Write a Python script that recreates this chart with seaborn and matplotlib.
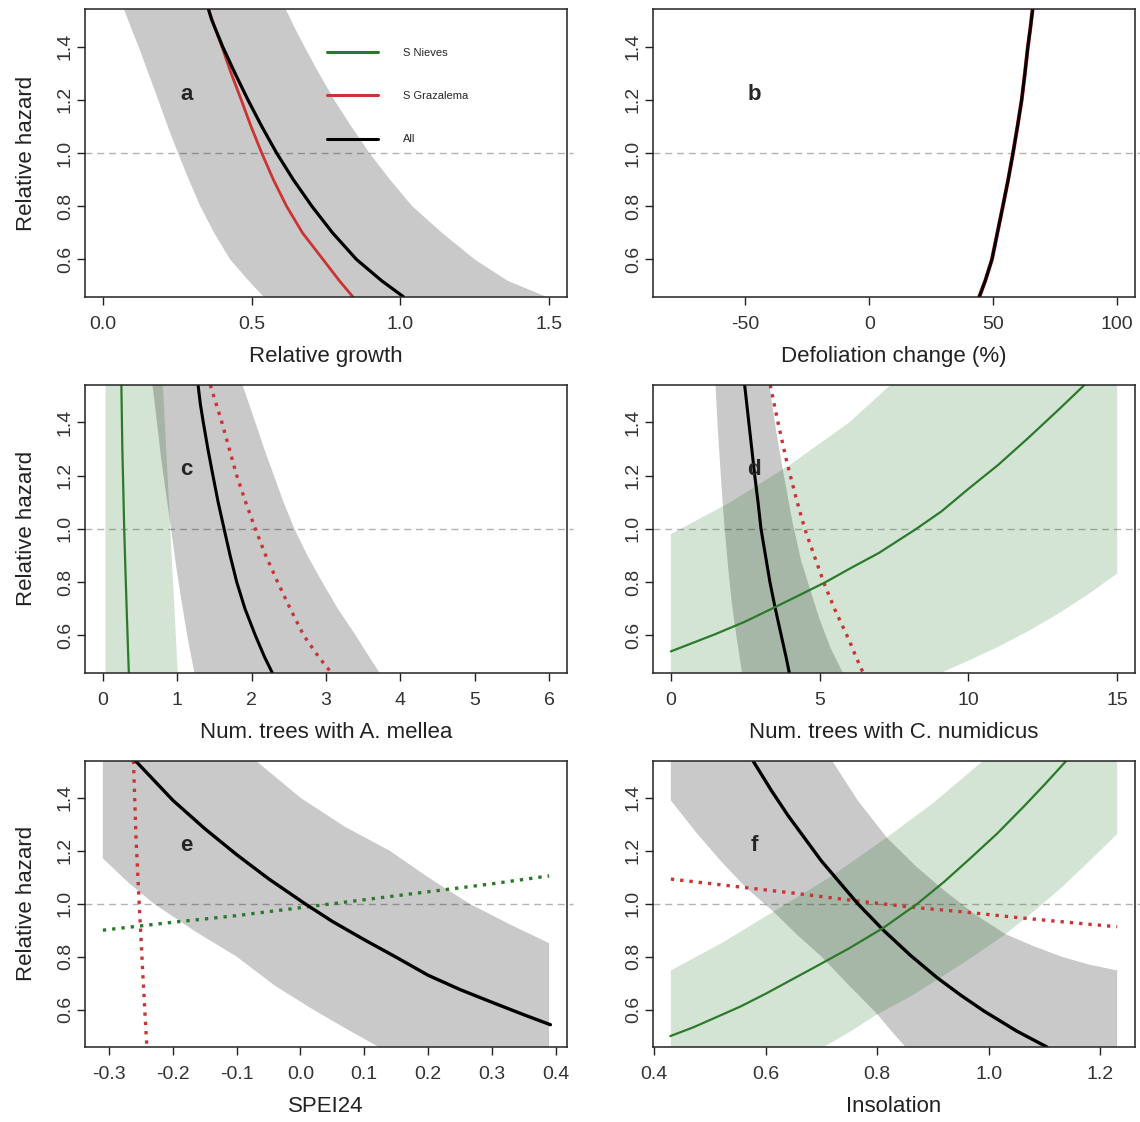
import numpy as np
import matplotlib
matplotlib.use("Agg")
import matplotlib.pyplot as plt
from matplotlib.lines import Line2D
import seaborn as sns

# ---------------------------------------------------------------
# Relative hazard curves (points along each fitted curve)
# ---------------------------------------------------------------
# a: relative growth
a_all_x = [0.355, 0.366, 0.4025, 0.444, 0.4875, 0.534, 0.584, 0.640, 0.7025,
           0.772, 0.8525, 0.937, 1.01]
a_all_hr = [1.54, 1.50, 1.40, 1.30, 1.20, 1.10, 1.00, 0.90, 0.80, 0.70, 0.60,
            0.52, 0.46]
a_graz_x = [0.355, 0.377, 0.40, 0.431, 0.465, 0.498, 0.534, 0.573, 0.6175,
            0.671, 0.74, 0.795, 0.84]
a_graz_hr = [1.54, 1.47, 1.40, 1.30, 1.20, 1.10, 1.00, 0.90, 0.80, 0.70, 0.60,
             0.52, 0.46]
a_all_hi_x = [0.0, 0.615, 0.645, 0.6775, 0.726, 0.7775, 0.835, 0.896, 0.965,
              1.04, 1.14, 1.25, 1.36, 1.49, 1.5]
a_all_hi = [1.54, 1.54, 1.47, 1.40, 1.30, 1.20, 1.10, 1.00, 0.90, 0.80, 0.70,
            0.60, 0.52, 0.46, 0.46]
a_all_lo_x = [0.0, 0.071, 0.095, 0.12, 0.153, 0.186, 0.218, 0.2525, 0.289,
              0.3275, 0.374, 0.4275, 0.49, 0.54, 1.5]
a_all_lo = [1.54, 1.54, 1.47, 1.40, 1.30, 1.20, 1.10, 1.00, 0.90, 0.80, 0.70,
            0.60, 0.52, 0.46, 0.46]

# b: defoliation change
b_all_x = [44.4, 46.8, 49.5, 51.7, 53.9, 56.05, 58.0, 59.8, 61.5, 62.8, 64.0,
           65.0, 65.9]
b_all_hr = [0.46, 0.52, 0.60, 0.70, 0.80, 0.90, 1.00, 1.10, 1.20, 1.30, 1.40,
            1.47, 1.54]

# c: trees with A. mellea
c_niev_x = [0.249, 0.262, 0.274, 0.287, 0.299, 0.32, 0.349]
c_niev_hr = [1.54, 1.30, 1.16, 1.00, 0.889, 0.70, 0.46]
c_niev_hi_x = [0.035, 0.807, 0.857, 0.907, 0.957, 1.006]
c_niev_hi = [1.54, 1.54, 1.273, 1.00, 0.732, 0.46]
c_niev_lo_x = [0.035, 1.006]
c_niev_lo = [0.46, 0.46]
c_all_x = [1.28, 1.31, 1.35, 1.412, 1.48, 1.55, 1.63, 1.711, 1.80, 1.911,
           2.05, 2.172, 2.277]
c_all_hr = [1.54, 1.47, 1.40, 1.30, 1.20, 1.10, 1.00, 0.90, 0.80, 0.70, 0.60,
            0.52, 0.46]
c_all_hi_x = [0.668, 1.878, 2.05, 2.17, 2.30, 2.43, 2.576, 2.75, 2.95, 3.16,
              3.40, 3.58, 3.72]
c_all_hi = [1.54, 1.54, 1.40, 1.30, 1.20, 1.10, 1.00, 0.90, 0.80, 0.70, 0.60,
            0.52, 0.46]
c_all_lo_x = [0.668, 0.78, 0.85, 0.917, 0.985, 1.056, 1.14, 1.23, 3.72]
c_all_lo = [1.54, 1.273, 1.13, 1.00, 0.86, 0.732, 0.59, 0.46, 0.46]
c_graz_x = [1.445, 1.60, 1.70, 1.80, 1.92, 2.05, 2.19, 2.35, 2.52, 2.70, 2.90,
            3.07]
c_graz_hr = [1.54, 1.40, 1.30, 1.20, 1.10, 1.00, 0.90, 0.80, 0.70, 0.60, 0.52,
             0.46]

# d: trees with C. numidicus
d_niev_x = [0.0, 1.5, 2.5, 3.5, 4.3, 5.2, 6.1, 7.0, 8.25, 9.1, 10.0, 11.0,
            12.0, 13.0, 13.9]
d_niev_hr = [0.54, 0.605, 0.652, 0.706, 0.75, 0.80, 0.856, 0.91, 1.00, 1.066,
             1.15, 1.24, 1.34, 1.444, 1.54]
d_niev_hi_x = [0.0, 1.0, 2.0, 3.0, 4.0, 5.0, 6.0, 7.38, 15.0]
d_niev_hi = [0.98, 1.04, 1.10, 1.17, 1.24, 1.32, 1.40, 1.54, 1.54]
d_niev_lo_x = [0.0, 9.09, 10.0, 11.0, 12.0, 13.0, 14.0, 15.0]
d_niev_lo = [0.46, 0.46, 0.505, 0.557, 0.615, 0.68, 0.752, 0.832]
d_all_x = [2.48, 2.62, 2.72, 2.82, 2.93, 3.03, 3.21, 3.33, 3.5, 3.75, 3.87,
           3.98]
d_all_hr = [1.54, 1.40, 1.30, 1.20, 1.10, 1.00, 0.88, 0.80, 0.706, 0.58, 0.52,
            0.46]
d_all_hi_x = [1.5, 3.31, 3.55, 3.8, 4.08, 4.38, 5.0, 5.38, 5.78]
d_all_hi = [1.54, 1.54, 1.36, 1.20, 1.03, 0.88, 0.66, 0.55, 0.46]
d_all_lo_x = [1.5, 1.57, 1.65, 1.72, 1.81, 1.92, 2.05, 2.2, 2.39, 5.78]
d_all_lo = [1.54, 1.39, 1.25, 1.13, 1.00, 0.86, 0.72, 0.60, 0.46, 0.46]
d_graz_x = [3.34, 3.6, 3.9, 4.2, 4.5, 4.88, 5.17, 5.5, 6.0, 6.22, 6.46]
d_graz_hr = [1.54, 1.40, 1.25, 1.12, 1.00, 0.88, 0.79, 0.70, 0.58, 0.52, 0.46]

# e: SPEI24
e_all_x = [-0.259, -0.2, -0.15, -0.1, -0.05, 0.007, 0.05, 0.1, 0.15, 0.2,
           0.25, 0.3, 0.35, 0.392]
e_all_hr = [1.54, 1.39, 1.283, 1.185, 1.094, 1.00, 0.933, 0.864, 0.798, 0.73,
            0.676, 0.628, 0.581, 0.543]
e_all_hi_x = [-0.31, -0.07, 0.0, 0.07, 0.14, 0.2, 0.265, 0.33, 0.39]
e_all_hi = [1.54, 1.54, 1.40, 1.29, 1.20, 1.10, 1.00, 0.92, 0.851]
e_all_lo_x = [-0.31, -0.27, -0.23, -0.165, -0.1, -0.04, 0.02, 0.07, 0.122,
              0.39]
e_all_lo = [1.171, 1.08, 1.00, 0.895, 0.80, 0.69, 0.60, 0.53, 0.46, 0.46]
e_graz_x = [-0.262, -0.258, -0.253, -0.247, -0.241]
e_graz_hr = [1.54, 1.25, 1.00, 0.72, 0.46]
e_niev_x = [-0.31, -0.2, -0.1, 0.0, 0.1, 0.2, 0.3, 0.39]
e_niev_hr = [0.90, 0.93, 0.955, 0.985, 1.015, 1.045, 1.075, 1.105]

# f: insolation
f_all_x = [0.578, 0.61, 0.64, 0.70, 0.765, 0.811, 0.86, 0.907, 0.95, 0.991,
           1.05, 1.104]
f_all_hr = [1.537, 1.428, 1.333, 1.161, 1.00, 0.90, 0.804, 0.721, 0.654,
            0.595, 0.519, 0.459]
f_all_hi_x = [0.43, 0.719, 0.765, 0.817, 0.87, 0.92, 0.975, 1.03, 1.08, 1.13,
              1.18, 1.23]
f_all_hi = [1.54, 1.54, 1.39, 1.25, 1.14, 1.05, 0.96, 0.885, 0.84, 0.80,
            0.77, 0.748]
f_all_lo_x = [0.43, 0.43, 0.475, 0.52, 0.565, 0.614, 0.655, 0.70, 0.75, 0.799,
              0.825, 0.85, 1.23]
f_all_lo = [1.54, 1.39, 1.27, 1.16, 1.06, 0.97, 0.885, 0.80, 0.69, 0.585,
            0.52, 0.46, 0.46]
f_niev_x = [0.429, 0.47, 0.51, 0.555, 0.60, 0.692, 0.75, 0.811, 0.872, 0.92,
            0.966, 1.015, 1.064, 1.10, 1.139]
f_niev_hr = [0.50, 0.533, 0.57, 0.612, 0.66, 0.765, 0.832, 0.909, 1.00, 1.083,
             1.17, 1.265, 1.37, 1.45, 1.54]
f_niev_hi_x = [0.43, 0.52, 0.614, 0.715, 0.817, 0.90, 0.99, 1.23]
f_niev_hi = [0.748, 0.85, 0.97, 1.10, 1.25, 1.38, 1.54, 1.54]
f_niev_lo_x = [0.43, 0.705, 0.75, 0.799, 0.86, 0.92, 0.975, 1.03, 1.08, 1.13,
               1.18, 1.23]
f_niev_lo = [0.46, 0.46, 0.515, 0.581, 0.65, 0.73, 0.805, 0.885, 0.97, 1.06,
             1.16, 1.263]
f_graz_x = [0.43, 0.55, 0.65, 0.765, 0.87, 0.95, 1.05, 1.15, 1.23]
f_graz_hr = [1.093, 1.064, 1.04, 1.01, 0.985, 0.97, 0.948, 0.928, 0.913]

# axis setup
x_labels = ["Relative growth", "Defoliation change (%)",
            "Num. trees with A. mellea", "Num. trees with C. numidicus",
            "SPEI24", "Insolation"]
x_limits = [(-0.06, 1.56), (-87.2, 107.2), (-0.24, 6.24), (-0.6, 15.6),
            (-0.338, 0.418), (0.398, 1.262)]
x_ticks = [[0.0, 0.5, 1.0, 1.5], [-50, 0, 50, 100], [0, 1, 2, 3, 4, 5, 6],
           [0, 5, 10, 15], [-0.3, -0.2, -0.1, 0.0, 0.1, 0.2, 0.3, 0.4],
           [0.4, 0.6, 0.8, 1.0, 1.2]]
x_ticklabels = [["0.0", "0.5", "1.0", "1.5"], ["-50", "0", "50", "100"],
                ["0", "1", "2", "3", "4", "5", "6"], ["0", "5", "10", "15"],
                ["-0.3", "-0.2", "-0.1", "0.0", "0.1", "0.2", "0.3", "0.4"],
                ["0.4", "0.6", "0.8", "1.0", "1.2"]]
y_ticks = [0.6, 0.8, 1.0, 1.2, 1.4]
y_ticklabels = ["0.6", "0.8", "1.0", "1.2", "1.4"]
y_limits = (0.46, 1.54)
panel_letters = ["a", "b", "c", "d", "e", "f"]
legend_labels = ["S Nieves", "S Grazalema", "All"]

# ---------------------------------------------------------------
sns.set_style("white")
plt.rcParams["font.family"] = ["Liberation Sans", "DejaVu Sans"]
plt.rcParams["lines.dotted_pattern"] = [1.0, 1.8]

GREEN = "#2b7a2b"
RED = "#cc3333"
BLACK = "#000000"
GREY_BAND = dict(color="#000000", alpha=0.21, lw=0)
GREEN_BAND = dict(color="#006400", alpha=0.17, lw=0)

W, H = 1140, 1122
fig = plt.figure(figsize=(W / 100, H / 100), dpi=100)

cols = [(85, 567), (653, 1135)]
rows = [(9.3, 296.7), (385.0, 672.7), (760.7, 1046.7)]
axes = []
for r in rows:
    for c in cols:
        rect = [c[0] / W, 1 - r[1] / H, (c[1] - c[0]) / W, (r[1] - r[0]) / H]
        axes.append(fig.add_axes(rect))


def band(ax, lo_x, lo, hi_x, hi, style):
    px = np.r_[np.asarray(hi_x, float), np.asarray(lo_x, float)[::-1]]
    py = np.r_[np.asarray(hi, float), np.asarray(lo, float)[::-1]]
    ax.fill(px, py, **style)


def curve(ax, x, y, color, lw, ls="-"):
    sns.lineplot(x=x, y=y, ax=ax, color=color, lw=lw, linestyle=ls,
                 sort=False, estimator=None, legend=False)


# a
ax = axes[0]
band(ax, a_all_lo_x, a_all_lo, a_all_hi_x, a_all_hi, GREY_BAND)
curve(ax, a_graz_x, a_graz_hr, RED, 2.0)
curve(ax, a_all_x, a_all_hr, BLACK, 2.3)

# b
ax = axes[1]
curve(ax, b_all_x, b_all_hr, RED, 2.8)
curve(ax, b_all_x, b_all_hr, BLACK, 2.2)

# c
ax = axes[2]
band(ax, c_niev_lo_x, c_niev_lo, c_niev_hi_x, c_niev_hi, GREEN_BAND)
band(ax, c_all_lo_x, c_all_lo, c_all_hi_x, c_all_hi, GREY_BAND)
curve(ax, c_niev_x, c_niev_hr, GREEN, 1.6)
curve(ax, c_graz_x, c_graz_hr, RED, 2.4, ":")
curve(ax, c_all_x, c_all_hr, BLACK, 2.2)

# d
ax = axes[3]
band(ax, d_all_lo_x, d_all_lo, d_all_hi_x, d_all_hi, GREY_BAND)
band(ax, d_niev_lo_x, d_niev_lo, d_niev_hi_x, d_niev_hi, GREEN_BAND)
curve(ax, d_graz_x, d_graz_hr, RED, 2.4, ":")
curve(ax, d_all_x, d_all_hr, BLACK, 2.2)
curve(ax, d_niev_x, d_niev_hr, GREEN, 1.6)

# e
ax = axes[4]
band(ax, e_all_lo_x, e_all_lo, e_all_hi_x, e_all_hi, GREY_BAND)
curve(ax, e_graz_x, e_graz_hr, RED, 2.4, ":")
curve(ax, e_niev_x, e_niev_hr, GREEN, 2.4, ":")
curve(ax, e_all_x, e_all_hr, BLACK, 2.4)

# f
ax = axes[5]
band(ax, f_all_lo_x, f_all_lo, f_all_hi_x, f_all_hi, GREY_BAND)
band(ax, f_niev_lo_x, f_niev_lo, f_niev_hi_x, f_niev_hi, GREEN_BAND)
curve(ax, f_graz_x, f_graz_hr, RED, 2.4, ":")
curve(ax, f_all_x, f_all_hr, BLACK, 2.4)
curve(ax, f_niev_x, f_niev_hr, GREEN, 1.6)

for i, ax in enumerate(axes):
    ax.set_xlim(*x_limits[i])
    ax.set_ylim(*y_limits)
    ax.axhline(1.0, xmin=0, xmax=1.012, color="#b4b4b4", lw=1.0,
               linestyle=(0, (5, 3.5)), clip_on=False, zorder=0.5)
    ax.set_xticks(x_ticks[i])
    ax.set_xticklabels(x_ticklabels[i])
    ax.set_yticks(y_ticks)
    ax.set_yticklabels(y_ticklabels, rotation=90, va="center")
    ax.tick_params(axis="both", which="major", bottom=True, left=True,
                   top=False, right=False, direction="out", length=6,
                   width=1.0, color="#222222", labelsize=14,
                   labelcolor="#333333")
    ax.tick_params(axis="x", pad=8)
    ax.tick_params(axis="y", pad=2)
    for s in ax.spines.values():
        s.set_visible(True)
        s.set_color("#222222")
        s.set_linewidth(1.1)
    ax.set_xlabel(x_labels[i], fontsize=16, color="#222222", labelpad=9)
    if i % 2 == 0:
        ax.set_ylabel("Relative hazard", fontsize=16, color="#222222",
                      labelpad=14)
    else:
        ax.set_ylabel("")
    ax.text(0.21, 0.705, panel_letters[i], transform=ax.transAxes,
            fontsize=16, fontweight="bold", ha="center", va="center")

handles = [Line2D([0], [0], color=GREEN, lw=2.2),
           Line2D([0], [0], color=RED, lw=2.2),
           Line2D([0], [0], color=BLACK, lw=2.2)]
axes[0].legend(handles, legend_labels, loc="upper left",
               bbox_to_anchor=(0.502, 0.866), frameon=False, fontsize=8,
               labelspacing=3.0, handlelength=4.6, handletextpad=2.2,
               borderpad=0, borderaxespad=0)

fig.savefig("out.png", dpi=100)
